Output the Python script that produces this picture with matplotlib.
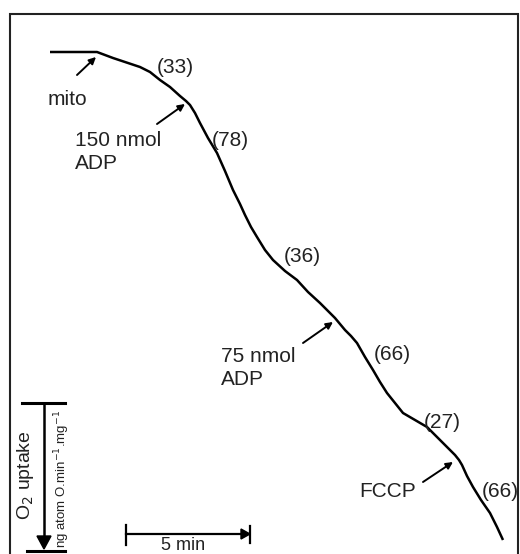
import matplotlib
matplotlib.use("Agg")
import matplotlib.pyplot as plt
from matplotlib.patches import Polygon

# Oxygen electrode trace (time axis, O2 level) (pixel units)
trace_time = [50, 97, 105, 113, 125, 140, 150, 160, 170, 180, 186, 190, 195, 200, 208, 217,
              225, 233, 240, 245, 251, 257, 265, 273, 285, 297, 308, 320, 328, 335,
              340, 345, 351, 357, 365, 373, 380, 387, 395, 403, 415, 427, 436, 445,
              450, 455, 459, 462, 467, 473, 481, 490, 497, 503]
trace_o2 = [52, 52, 55, 58, 62, 67, 72, 80, 87, 96, 101, 105, 113, 123, 138, 153,
            171, 190, 204, 215, 227, 237, 250, 260, 271, 280, 292, 303, 311, 318,
            324, 330, 336, 343, 357, 370, 382, 393, 403, 413, 420, 427, 436, 445,
            450, 455, 460, 465, 476, 487, 500, 513, 527, 540]

# rate labels (ng atom O/min/mg)
rate_labels = ["(33)", "(78)", "(36)", "(66)", "(27)", "(66)"]
rate_pos = [(157, 73), (212, 146), (284, 262), (374, 360), (424, 428), (482, 497)]

# additions
add_labels = ["mito", "150 nmol\nADP", "75 nmol\nADP", "FCCP"]
add_text_pos = [(48, 105), (75, 146), (221, 362), (359, 497)]
add_arrow_tail = [(77, 75), (157, 124), (303, 343), (423, 482)]
add_arrow_head = [(96, 57), (185, 104), (333, 322), (453, 462)]

FONT = ["Liberation Sans", "DejaVu Sans"]
TXT = "#222222"

fig = plt.figure(figsize=(5.2, 5.54), dpi=100)
ax = fig.add_axes([0, 0, 1, 1])
ax.set_xlim(0, 520)
ax.set_ylim(554, 0)
ax.axis("off")

# frame
ax.plot([10, 10, 518, 518], [560, 14, 14, 560], color="#222222", lw=1.5,
        solid_joinstyle="miter")

# trace
ax.plot(trace_time, trace_o2, color="black", lw=1.8, solid_capstyle="butt",
        solid_joinstyle="round")

fs = 15
for lab, (x, y) in zip(rate_labels, rate_pos):
    ax.text(x, y, lab, fontsize=fs, ha="left", va="baseline", family=FONT, color=TXT)

for lab, (x, y), t, h in zip(add_labels, add_text_pos, add_arrow_tail, add_arrow_head):
    for i, line in enumerate(lab.split("\n")):
        ax.text(x, y + 23 * i, line, fontsize=fs, ha="left", va="baseline",
                family=FONT, color=TXT)
    ax.annotate("", xy=h, xytext=t,
                arrowprops=dict(arrowstyle="-|>", color="black", lw=1.4,
                                mutation_scale=10, shrinkA=0, shrinkB=0))

# vertical O2 scale bar
ax.plot([22, 65], [403, 403], color="black", lw=2.2)
ax.plot([27, 65], [551, 551], color="black", lw=2.2)
ax.plot([44, 44], [403, 538], color="black", lw=1.8)
ax.add_patch(Polygon([[37, 536], [51, 536], [44, 549]], closed=True, color="black"))
ax.text(26, 475, "O$_2$ uptake", rotation=90, fontsize=14, ha="center", va="center",
        family=FONT, color=TXT)
ax.text(62, 479, "ng atom O.min$^{-1}$.mg$^{-1}$", rotation=90, fontsize=9.5,
        ha="center", va="center", family=FONT, color=TXT)

# horizontal time scale bar
ax.plot([126, 126], [525, 545], color="black", lw=1.6)
ax.plot([126, 244], [534, 534], color="black", lw=1.6)
ax.plot([250, 250], [526, 543], color="black", lw=1.6)
ax.add_patch(Polygon([[241, 529], [241, 539], [250, 534]], closed=True, color="black"))
ax.text(183, 550, "5 min", fontsize=13, ha="center", va="baseline",
        family=FONT, color=TXT)

fig.savefig("out.png", dpi=100, facecolor="white")
